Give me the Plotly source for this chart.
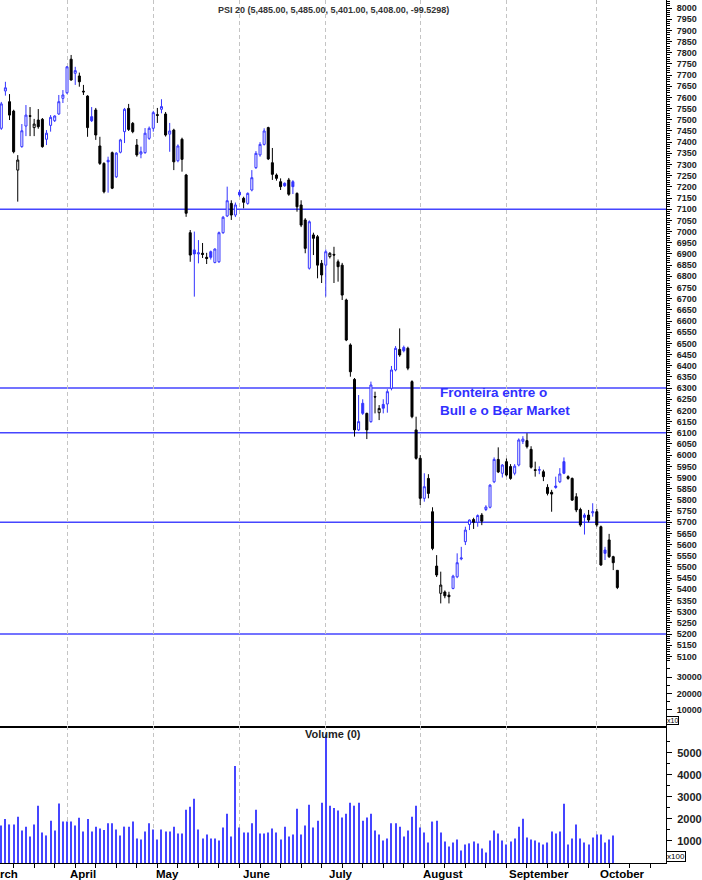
import plotly.graph_objects as go

# ---------------- data ----------------
opens = [7462, 7629, 7581, 7539, 7275, 7380, 7472, 7518, 7465, 7499,
         7502, 7413, 7475, 7496, 7526, 7596, 7621, 7771, 7708, 7696,
         7628, 7606, 7514, 7544, 7383, 7305, 7319, 7353, 7245, 7355,
         7447, 7551, 7484, 7387, 7347, 7353, 7417, 7462, 7523, 7547,
         7526, 7436, 7454, 7317, 7413, 7253, 6995, 6918, 6900, 6903,
         6885, 6910, 6862, 6865, 6995, 7070, 7126, 7074, 7176, 7149,
         7126, 7186, 7286, 7343, 7390, 7465, 7308, 7253, 7223, 7216,
         7231, 7223, 7171, 7119, 7052, 6836, 6985, 6977, 6858, 6850,
         6888, 6898, 6865, 6850, 6694, 6493, 6339, 6113, 6232, 6187,
         6150, 6262, 6190, 6227, 6229, 6299, 6381, 6473, 6482, 6478,
         6329, 6113, 5986, 5807, 5896, 5747, 5504, 5382, 5388, 5374,
         5404, 5456, 5536, 5613, 5690, 5712, 5700, 5732, 5757, 5767,
         5881, 5981, 5919, 5971, 5949, 5919, 5956, 6062, 6065, 6026,
         5935, 5933, 5926, 5856, 5834, 5862, 5881, 5971, 5904, 5896,
         5814, 5757, 5732, 5732, 5742, 5747, 5680, 5576, 5621, 5546,
         5485]
highs = [7580, 7670, 7615, 7545, 7342, 7481, 7566, 7557, 7504, 7548,
         7508, 7454, 7521, 7520, 7611, 7633, 7740, 7790, 7737, 7711,
         7656, 7610, 7557, 7553, 7424, 7310, 7335, 7358, 7355, 7415,
         7553, 7571, 7490, 7414, 7380, 7463, 7470, 7540, 7553, 7592,
         7535, 7486, 7460, 7390, 7420, 7258, 7007, 7000, 6962, 6949,
         6905, 6915, 6925, 7000, 7070, 7201, 7140, 7130, 7186, 7156,
         7175, 7275, 7360, 7400, 7462, 7469, 7374, 7260, 7238, 7220,
         7240, 7230, 7175, 7140, 7060, 7050, 6995, 6985, 6873, 6920,
         6908, 6932, 6875, 6860, 6700, 6500, 6345, 6269, 6250, 6190,
         6329, 6284, 6224, 6250, 6295, 6399, 6488, 6567, 6490, 6485,
         6335, 6172, 6000, 5919, 5915, 5767, 5553, 5479, 5395, 5389,
         5465, 5561, 5590, 5680, 5712, 5720, 5735, 5741, 5776, 5870,
         5990, 6035, 5960, 5985, 5960, 5960, 6075, 6085, 6098, 6040,
         5971, 5950, 5935, 5870, 5845, 5904, 5942, 5990, 5910, 5900,
         5830, 5765, 5740, 5755, 5785, 5760, 5685, 5590, 5648, 5550,
         5485]
lows = [7455, 7608, 7499, 7350, 7134, 7375, 7427, 7427, 7427, 7460,
        7375, 7387, 7447, 7490, 7522, 7575, 7615, 7675, 7656, 7648,
        7611, 7424, 7490, 7410, 7298, 7171, 7174, 7190, 7240, 7350,
        7396, 7450, 7440, 7335, 7328, 7348, 7410, 7447, 7486, 7529,
        7425, 7357, 7275, 7310, 7268, 7066, 6865, 6709, 6858, 6882,
        6855, 6875, 6858, 6860, 6990, 7065, 7052, 7065, 7156, 7104,
        7120, 7180, 7280, 7335, 7385, 7320, 7231, 7228, 7186, 7200,
        7160, 7168, 7089, 7020, 6903, 6830, 6895, 6791, 6770, 6709,
        6880, 6770, 6776, 6694, 6510, 6351, 6083, 6108, 6180, 6072,
        6145, 6187, 6157, 6187, 6190, 6290, 6375, 6440, 6460, 6380,
        6165, 5980, 5777, 5792, 5807, 5575, 5455, 5337, 5360, 5337,
        5400, 5450, 5530, 5598, 5665, 5670, 5680, 5687, 5750, 5762,
        5875, 5920, 5900, 5905, 5890, 5910, 5950, 6050, 6030, 5940,
        5904, 5915, 5884, 5820, 5747, 5850, 5875, 5915, 5890, 5795,
        5745, 5680, 5645, 5700, 5725, 5680, 5505, 5531, 5540, 5486,
        5401]
closes = [7571, 7643, 7521, 7357, 7320, 7451, 7521, 7516, 7481, 7469,
          7380, 7440, 7511, 7517, 7581, 7611, 7737, 7678, 7720, 7670,
          7625, 7465, 7496, 7432, 7305, 7178, 7312, 7194, 7351, 7410,
          7547, 7457, 7447, 7343, 7357, 7440, 7462, 7532, 7520, 7559,
          7432, 7450, 7312, 7383, 7323, 7082, 6895, 6900, 6905, 6898,
          6880, 6885, 6922, 6995, 7064, 7138, 7074, 7119, 7164, 7131,
          7171, 7241, 7350, 7390, 7450, 7325, 7256, 7238, 7201, 7205,
          7167, 7201, 7111, 7029, 6925, 7044, 6970, 6850, 6806, 6910,
          6903, 6895, 6843, 6716, 6515, 6373, 6113, 6150, 6187, 6113,
          6314, 6260, 6209, 6210, 6284, 6381, 6478, 6448, 6467, 6389,
          6172, 5986, 5807, 5859, 5829, 5583, 5464, 5419, 5371, 5367,
          5459, 5519, 5540, 5665, 5710, 5700, 5730, 5705, 5768, 5866,
          5981, 5925, 5956, 5911, 5896, 5951, 6068, 6072, 6038, 5946,
          5932, 5935, 5904, 5829, 5826, 5856, 5916, 5919, 5896, 5799,
          5755, 5688, 5722, 5710, 5747, 5688, 5509, 5561, 5546, 5519,
          5408]
volumes = [1700, 2000, 1750, 1750, 2100, 1470, 1650, 1200, 1750, 2600,
           1380, 1250, 1920, 1470, 2700, 1880, 1880, 1880, 1700, 2050,
           1430, 2000, 1430, 1650, 1560, 1500, 1800, 1800, 1520, 1250,
           1650, 1650, 1880, 1110, 1070, 1430, 1800, 1520, 1070, 1520,
           1430, 1430, 1650, 1340, 1340, 2420, 2550, 2920, 1520, 1110,
           1290, 1110, 1110, 1020, 1610, 2240, 1200, 4400, 1610, 1380,
           1380, 1800, 2420, 1340, 1340, 1380, 1560, 1380, 1070, 1650,
           1200, 1290, 2460, 1290, 1700, 2640, 1610, 1920, 2730, 5830,
           2600, 2500, 2380, 2060, 2240, 2730, 2600, 2730, 1920, 2060,
           2240, 1470, 1290, 1020, 1110, 1800, 1800, 1650, 1200, 1470,
           2100, 2600, 1610, 1380, 930, 1880, 1920, 1380, 980, 750,
           930, 1070, 570, 840, 890, 980, 890, 660, 480, 1020,
           1470, 1340, 1020, 840, 980, 1110, 1650, 2010, 1160, 1070,
           1020, 930, 840, 930, 1430, 1340, 1430, 2690, 840, 1110,
           1750, 1110, 930, 840, 1160, 1290, 1290, 930, 1070, 1250,
           0]

month_labels = ["March", "April", "May", "June", "July", "August", "September", "October"]
month_starts = [-5, 16, 37, 58, 79, 102, 123, 145]   # trading-day index of first session
levels = [7100, 6300, 6100, 5700, 5200]               # horizontal support/resistance lines
price_ticks = list(range(5100, 8001, 50))
volume_ticks = [1000, 2000, 3000, 4000, 5000]
overlay_ticks = [10000, 20000, 30000]
overlay_ticktext = ["10000", "20000", "30000"]

title_text = "PSI 20 (5,485.00, 5,485.00, 5,401.00, 5,408.00, -99.5298)"
note_text = "Fronteira entre o<br>Bull e o Bear Market"

# ---------------- styling ----------------
BLUE = "#3434ff"
LINE_BLUE = "#4545ff"
FONT = "Liberation Sans"
days = list(range(len(closes)))
XR = [-0.32, 161.85]
PLOT_W = 666.0
PX_PER_DAY = 4.107

# colour by close vs previous close; hollow/filled by close vs open (Plotly handles)
blue_idx = [i for i in days if i == 0 or closes[i] >= closes[i - 1]]
black_idx = [i for i in days if i not in blue_idx]


def sub(arr, idx):
    return [arr[i] for i in idx]


fig = go.Figure()
fig.add_trace(go.Candlestick(
    x=blue_idx, open=sub(opens, blue_idx), high=sub(highs, blue_idx),
    low=sub(lows, blue_idx), close=sub(closes, blue_idx),
    increasing=dict(line=dict(color=BLUE, width=1), fillcolor="white"),
    decreasing=dict(line=dict(color=BLUE, width=1), fillcolor=BLUE),
    whiskerwidth=0, showlegend=False, hoverinfo="skip", xaxis="x", yaxis="y"))
fig.add_trace(go.Candlestick(
    x=black_idx, open=sub(opens, black_idx), high=sub(highs, black_idx),
    low=sub(lows, black_idx), close=sub(closes, black_idx),
    increasing=dict(line=dict(color="black", width=1), fillcolor="white"),
    decreasing=dict(line=dict(color="black", width=1), fillcolor="black"),
    whiskerwidth=0, showlegend=False, hoverinfo="skip", xaxis="x", yaxis="y"))
fig.add_trace(go.Bar(x=days, y=volumes, width=0.26, marker=dict(color=LINE_BLUE, line=dict(width=0)),
                     showlegend=False, hoverinfo="skip", xaxis="x2", yaxis="y2"))
# empty carriers so the extra overlay axes get drawn
for ax in ("y3", "y4"):
    fig.add_trace(go.Scatter(x=[None], y=[None], mode="markers", showlegend=False,
                             hoverinfo="skip", xaxis="x", yaxis=ax))

SPLIT = 0.1587
grid = dict(showgrid=True, gridcolor="#c4c4c4", griddash="4px,3px", gridwidth=1)
tickfont_small = dict(family=FONT, size=9, color="#1e1e1e", weight="bold")

fig.update_layout(
    width=702, height=880,
    margin=dict(l=0, r=36, t=0, b=17),
    paper_bgcolor="white", plot_bgcolor="white",
    boxmode="overlay",
    xaxis=dict(domain=[0, 1], anchor="y", range=XR, tickmode="array", tickvals=month_starts,
               showticklabels=False, ticks="", zeroline=False, showline=True,
               linecolor="black", linewidth=2, rangeslider=dict(visible=False), **grid),
    yaxis=dict(domain=[SPLIT, 1], anchor="x", side="right", range=[4788.5, 8035.8],
               tickmode="array", tickvals=price_ticks, ticks="outside", ticklen=5,
               tickcolor="black", showgrid=False, zeroline=False, showline=True,
               linecolor="black", linewidth=1, tickfont=tickfont_small, ticklabelstandoff=3),
    yaxis3=dict(overlaying="y", anchor="x", side="right", range=[4788.5, 8035.8],
                tickmode="array", tickvals=list(range(5080, 8031, 10)), ticks="outside",
                ticklen=3, tickcolor="black", showticklabels=False, showgrid=False,
                zeroline=False, showline=False),
    yaxis4=dict(overlaying="y", anchor="x", side="right", range=[0, 445215],
                tickmode="array", tickvals=overlay_ticks, ticktext=overlay_ticktext,
                ticks="outside", ticklen=5,
                tickcolor="black", showgrid=False, zeroline=False, showline=False,
                tickfont=tickfont_small, ticklabelstandoff=3,
                minor=dict(tickmode="array", tickvals=[5000, 15000, 25000, 35000],
                           ticks="outside", ticklen=3, tickcolor="black")),
    xaxis2=dict(domain=[0, 1], anchor="y2", range=XR, tickmode="array", tickvals=month_starts,
                showticklabels=False, ticks="", zeroline=False, showline=True,
                linecolor="black", linewidth=1,
                minor=dict(tickmode="linear", tick0=3, dtick=5, ticks="outside",
                           ticklen=4, tickcolor="black", showgrid=False),
                **grid),
    yaxis2=dict(domain=[0, SPLIT], anchor="x2", side="right", range=[0, 6214],
                tickmode="array", tickvals=volume_ticks, ticks="outside", ticklen=5,
                tickcolor="black", showgrid=False, zeroline=False, showline=True,
                linecolor="black", linewidth=1, ticklabelstandoff=3,
                tickfont=dict(family=FONT, size=11, color="#1e1e1e", weight="bold"),
                minor=dict(tickmode="linear", tick0=500, dtick=1000, ticks="outside",
                           ticklen=3, tickcolor="black", showgrid=False)),
)

# horizontal levels
for lv in levels:
    fig.add_shape(type="line", xref="x domain", x0=0, x1=1, yref="y", y0=lv, y1=lv,
                  line=dict(color=LINE_BLUE, width=1.5), layer="below")

# month labels (left aligned at the month grid line); paper coords so that the
# partially hidden first label is still drawn
for lab, ms in zip(month_labels, month_starts):
    xp = (ms - XR[0]) * PX_PER_DAY / PLOT_W
    fig.add_annotation(x=xp, xref="paper", y=-0.0127, yref="paper", text=lab, showarrow=False,
                       xanchor="left", yanchor="middle", xshift=1,
                       font=dict(family=FONT, size=11.5, color="black", weight="bold"))

fig.add_annotation(x=0.5, xref="paper", y=0.9884, yref="paper", text=title_text, showarrow=False,
                   xanchor="center", yanchor="middle",
                   font=dict(family=FONT, size=9, color="#333333", weight="bold"))
fig.add_annotation(x=0.5, xref="paper", y=0.1495, yref="paper", text="Volume (0)", showarrow=False,
                   xanchor="center", yanchor="middle",
                   font=dict(family=FONT, size=11, color="#222222", weight="bold"))
fig.add_annotation(x=106.3, xref="x", y=6238, yref="y", text=note_text, showarrow=False,
                   xanchor="left", yanchor="middle", align="left",
                   font=dict(family=FONT, size=13.5, color="#3030ff", weight="bold"))
fig.add_annotation(x=1.0, xref="paper", y=0.1657, yref="paper", text="x10", showarrow=False,
                   xanchor="left", yanchor="middle", bordercolor="black", borderwidth=1, borderpad=0,
                   bgcolor="white", font=dict(family=FONT, size=7, color="black"))
fig.add_annotation(x=1.0, xref="paper", y=0.0081, yref="paper", text="x100", showarrow=False,
                   xanchor="left", yanchor="middle", bordercolor="black", borderwidth=1, borderpad=0,
                   bgcolor="white", font=dict(family=FONT, size=8, color="black"))

fig.write_html("out.html", config={"displayModeBar": False},
               post_script="document.body.style.margin='0px';document.body.style.overflow='hidden';")
